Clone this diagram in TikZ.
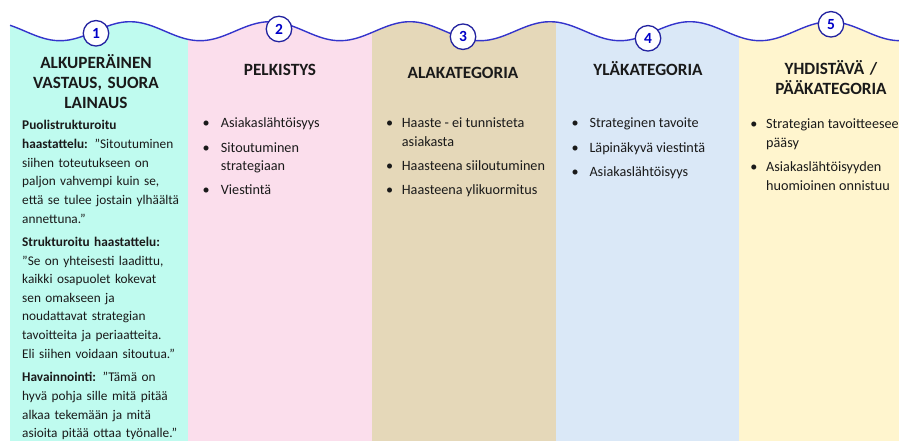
\documentclass[tikz,border=0pt]{standalone}
\usepackage{fontspec}
\setmainfont{Carlito}
\definecolor{ccyan}{HTML}{BFFBEF}
\definecolor{cpink}{HTML}{FBDEEC}
\definecolor{ctan}{HTML}{E5D8B9}
\definecolor{cblue}{HTML}{DAE8F7}
\definecolor{cyellow}{HTML}{FFF5CE}
\definecolor{wavecol}{HTML}{3434CC}
\definecolor{numborder}{HTML}{2323A0}
\definecolor{numtext}{HTML}{0000C8}
\definecolor{txt}{HTML}{1A1A1A}
\tikzset{
  hdr/.style={font=\fontsize{17.2}{20}\selectfont\bfseries, align=center, text width=180pt, inner sep=0pt, anchor=base, text=txt},
  numc/.style={circle, draw=numborder, line width=1.3pt, fill=white, minimum size=25.5pt, inner sep=0pt, font=\fontsize{15.5}{15.5}\selectfont\bfseries, text=numtext},
  bodytext/.style={font=\fontsize{13.3}{18.6}\selectfont, inner sep=0pt, anchor=base west, text width=178pt, align=left, text=txt},
  blist/.style={font=\fontsize{14.2}{18.6}\selectfont, inner sep=0pt, anchor=base west, text=txt},
  wave/.style={draw=wavecol, line width=1.4pt},
}
\newcommand\bl{\textbullet}
\newcommand\wavefun[1]{31.2-9.5*cos((#1+10)*2.5714286)}
\begin{document}
\begin{tikzpicture}[x=1pt,y=-1pt]
\useasboundingbox (0,0) rectangle (899,441);
% column fills clipped by the wave
\begin{scope}
  \clip plot[domain=10:899,samples=200,smooth] (\x,{\wavefun{\x}}) -- (899,441) -- (10,441) -- cycle;
  \fill[ccyan]   (10,0)  rectangle (188,441);
  \fill[cpink]   (188,0) rectangle (372,441);
  \fill[ctan]    (372,0) rectangle (556,441);
  \fill[cblue]   (556,0) rectangle (739,441);
  \fill[cyellow] (739,0) rectangle (899,441);
\end{scope}
% wave line
\draw[wave] plot[domain=10:899,samples=200,smooth] (\x,{\wavefun{\x}});
% number circles
\node[numc] (n1) at (96,33.3) {1};
\node[numc] (n2) at (279,29) {2};
\node[numc] (n3) at (463,36.7) {3};
\node[numc] (n4) at (648,38.3) {4};
\node[numc] (n5) at (831,24.3) {5};
% headers
\node[hdr] (h1) at (96,68.3) {ALKUPERÄINEN\\VASTAUS, SUORA\\LAINAUS};
\node[hdr] (h2) at (280,76) {PELKISTYS};
\node[hdr] (h3) at (463,78.3) {ALAKATEGORIA};
\node[hdr] (h4) at (648,75.3) {YLÄKATEGORIA};
\node[hdr] (h5) at (831,75) {YHDISTÄVÄ /\\PÄÄKATEGORIA};
% column 1 body
\node[bodytext] (b1) at (22,130) {\textbf{Puolistrukturoitu}\\
\textbf{haastattelu:} ”Sitoutuminen\\
siihen toteutukseen on\\
paljon vahvempi kuin se,\\
että se tulee jostain ylhäältä\\
annettuna.”\\[5pt]
\textbf{Strukturoitu haastattelu:}\\
”Se on yhteisesti laadittu,\\
kaikki osapuolet kokevat\\
sen omakseen ja\\
noudattavat strategian\\
tavoitteita ja periaatteita.\\
Eli siihen voidaan sitoutua.”\\[5pt]
\textbf{Havainnointi:} ”Tämä on\\
hyvä pohja sille mitä pitää\\
alkaa tekemään ja mitä\\
asioita pitää ottaa työnalle.”};
% bullet lists
\node[blist] (b2) at (202.5,127.7) {\begin{tabular}[t]{@{}p{18.2pt}@{}l@{}}
\bl & Asiakaslähtöisyys\\[5.7pt]
\bl & Sitoutuminen\\
    & strategiaan\\[5.7pt]
\bl & Viestintä
\end{tabular}};
\node[blist] (b3) at (385.8,127.7) {\begin{tabular}[t]{@{}p{15.9pt}@{}l@{}}
\bl & Haaste - ei tunnisteta\\
    & asiakasta\\[5.7pt]
\bl & Haasteena siiloutuminen\\[5.7pt]
\bl & Haasteena ylikuormitus
\end{tabular}};
\node[blist] (b4) at (571.5,127.7) {\begin{tabular}[t]{@{}p{17.8pt}@{}l@{}}
\bl & Strateginen tavoite\\[5.7pt]
\bl & Läpinäkyvä viestintä\\[5.7pt]
\bl & Asiakaslähtöisyys
\end{tabular}};
\node[blist] (b5) at (750.2,128.5) {\begin{tabular}[t]{@{}p{15.8pt}@{}l@{}}
\bl & Strategian tavoitteeseen\\
    & pääsy\\[5.7pt]
\bl & Asiakaslähtöisyyden\\
    & huomioinen onnistuu
\end{tabular}};
\end{tikzpicture}
\end{document}
